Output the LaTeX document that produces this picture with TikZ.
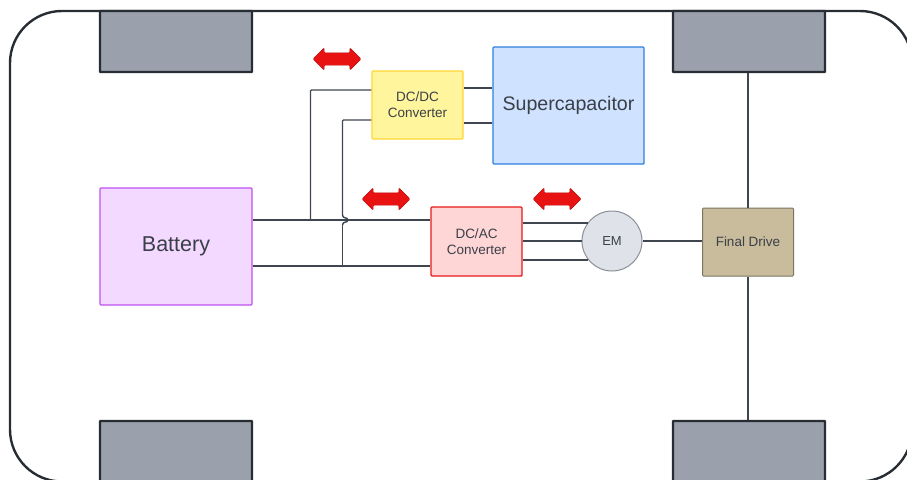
\documentclass[tikz,border=0pt]{standalone}
\usepackage{fontspec}
\setmainfont{Liberation Sans}
\usetikzlibrary{shapes.arrows}
\definecolor{inkdark}{HTML}{282C33}
\definecolor{wirecol}{HTML}{3F4650}
\definecolor{textcol}{HTML}{3A3F48}
\definecolor{wheelcol}{HTML}{9AA0AC}
\definecolor{flowcol}{HTML}{E81212}
\tikzset{
  box/.style={draw, rounded corners=1pt, line width=1.4pt, inner sep=0pt, align=center, text=textcol},
  wheelbox/.style={draw=inkdark, fill=wheelcol, line width=2.2pt, rounded corners=.5pt, minimum width=152pt, minimum height=61pt, inner sep=0pt},
  wire/.style={draw=wirecol, line width=1.4pt, rounded corners=1pt},
  flowarrow/.style={shape=double arrow, fill=flowcol, draw=flowcol!80!black, line width=.4pt, rounded corners=1pt, minimum height=48pt, minimum width=22pt, double arrow head extend=5pt, inner sep=6pt}
}
\begin{document}
\begin{tikzpicture}[x=1pt,y=-1pt]
  \clip (0,0) rectangle (907,479);

  % Chassis
  \draw[inkdark, line width=2.4pt, rounded corners=52pt] (10,11) rectangle (912,481.5);

  % Wheels
  \node[wheelbox] (wheelFL) at (176,41.5) {};
  \node[wheelbox] (wheelFR) at (749,41.5) {};
  \node[wheelbox] (wheelRL) at (176,451.5) {};
  \node[wheelbox] (wheelRR) at (749,451.5) {};

  % Components
  \node[box, draw={rgb,255:red,192;green,80;blue,240}, fill={rgb,255:red,243;green,217;blue,255}, minimum width=152pt, minimum height=117pt, font=\fontsize{21.5}{24}\selectfont] (batt) at (176,246.5) {Battery};
  \node[box, draw={rgb,255:red,255;green,214;blue,51}, fill={rgb,255:red,255;green,245;blue,157}, minimum width=91pt, minimum height=68pt, font=\fontsize{13.5}{16.5}\selectfont] (dcdc) at (417.5,105) {DC/DC\\[-.5pt]Converter};
  \node[box, draw={rgb,255:red,47;green,128;blue,221}, fill={rgb,255:red,207;green,226;blue,255}, minimum width=151pt, minimum height=117pt, font=\fontsize{19.6}{23}\selectfont] (supercap) at (568.5,105.5) {\raisebox{3pt}{Supercapacitor}};
  \node[box, draw={rgb,255:red,232;green,24;blue,24}, fill={rgb,255:red,255;green,214;blue,214}, minimum width=91pt, minimum height=69pt, font=\fontsize{13.5}{16.5}\selectfont] (dcac) at (476.5,241.5) {DC/AC\\Converter};
  \node[box, draw={rgb,255:red,122;green,117;blue,96}, fill={rgb,255:red,201;green,188;blue,156}, line width=1pt, minimum width=91pt, minimum height=68pt, font=\fontsize{13.5}{16}\selectfont] (fdrive) at (748,242) {Final Drive};

  % Junctions
  \coordinate (jTop) at (310.5,220);
  \coordinate (jLow) at (342.5,266);
  \coordinate (jumpA) at (342.5,215);
  \coordinate (jumpB) at (342.5,225);

  % Battery bus
  \draw[wire] (batt.east |- jTop) -- (dcac.west |- jTop);
  \draw[wire] (batt.east |- jLow) -- (dcac.west |- jLow);

  % DC/DC branches
  \draw[wire] (jTop) -- (jTop |- 0,90) -- (dcdc.west |- 0,90);
  \draw[wire] (jLow) -- (jumpB);
  \draw[wire, rounded corners=0pt] (jumpB) .. controls (342.5,221) and (348,223) .. (348,220) .. controls (348,217) and (342.5,219) .. (jumpA);
  \draw[wire] (jumpA) -- (jumpA |- 0,120) -- (dcdc.west |- 0,120);

  % DC/DC to supercapacitor
  \draw[wire] (dcdc.east |- 0,88) -- (supercap.west |- 0,88);
  \draw[wire] (dcdc.east |- 0,123) -- (supercap.west |- 0,123);

  % Motor
  \node[circle, draw={rgb,255:red,138;green,143;blue,152}, fill={rgb,255:red,223;green,226;blue,232}, line width=1pt, minimum size=60pt, inner sep=0pt, text=textcol, font=\fontsize{13}{16}\selectfont] (motor) at (612,241) {EM};

  % Three phases
  \draw[wire] (dcac.east |- 0,223) -- (588,223);
  \draw[wire] (dcac.east |- 0,241) -- (motor.west);
  \draw[wire] (dcac.east |- 0,260) -- (588,260);

  % Drive line
  \draw[wire] (motor.east) -- (motor.east -| fdrive.west);
  \draw[wire] (wheelFR.south -| fdrive.north) -- (fdrive.north);
  \draw[wire] (fdrive.south) -- (wheelRR.north -| fdrive.south);

  % Flow arrows
  \node[flowarrow] (flowA) at (337,59) {};
  \node[flowarrow] (flowB) at (386,199) {};
  \node[flowarrow] (flowC) at (557,199) {};
\end{tikzpicture}
\end{document}
